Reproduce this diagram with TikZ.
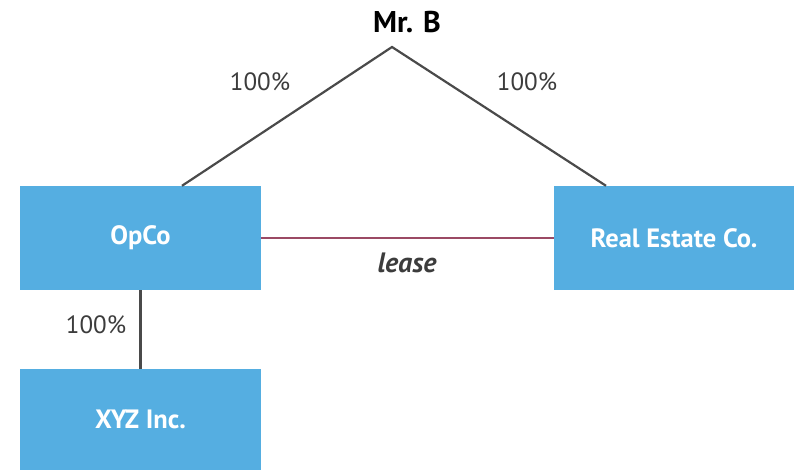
\documentclass[tikz,border=0pt]{standalone}
\usepackage{fontspec}
\setmainfont{PT Sans}
\definecolor{boxblue}{HTML}{55AEE1}
\definecolor{linkgray}{HTML}{4A4A4A}
\definecolor{leasered}{HTML}{9B4A64}
\definecolor{txtgray}{HTML}{3C3C3C}
\begin{document}
\begin{tikzpicture}[x=1pt,y=-1pt,
  entity/.style={fill=boxblue,draw=none,minimum width=241pt,minimum height=104pt,
    inner sep=0pt,text=white,font=\fontsize{26.5}{30}\selectfont\bfseries},
  owner/.style={font=\fontsize{30}{34}\selectfont\bfseries,text=black},
  share/.style={font=\fontsize{25}{29}\selectfont,text=txtgray},
  link/.style={draw=linkgray,line width=2.2pt},
  leaselink/.style={draw=leasered,line width=2.2pt}]
\useasboundingbox (0,0) rectangle (794,470);
% entities
\node[entity] (opco) at (140.5,238) {OpCo};
\node[entity,minimum width=240pt] (realco) at (674,238) {Real Estate Co.};
\node[entity,minimum height=101pt] (xyz) at (140.5,419.5) {XYZ Inc.};
\node[owner] (mrb) at (407,22) {Mr. B};
\coordinate (apex) at (392,47);
% ownership links
\draw[link] (opco.north -| 182,0) -- (apex) -- (realco.north -| 606,0);
\draw[link] (opco.south) -- (xyz.north);
\draw[leaselink] (opco.east) -- (realco.west);
% labels
\node[share] (s1) at (260,82) {100\%};
\node[share] (s2) at (527,82) {100\%};
\node[share] (s3) at (96,325) {100\%};
\node[font=\fontsize{28}{32}\selectfont\bfseries\itshape,text=txtgray] (lease) at (407,263) {lease};
\end{tikzpicture}
\end{document}
